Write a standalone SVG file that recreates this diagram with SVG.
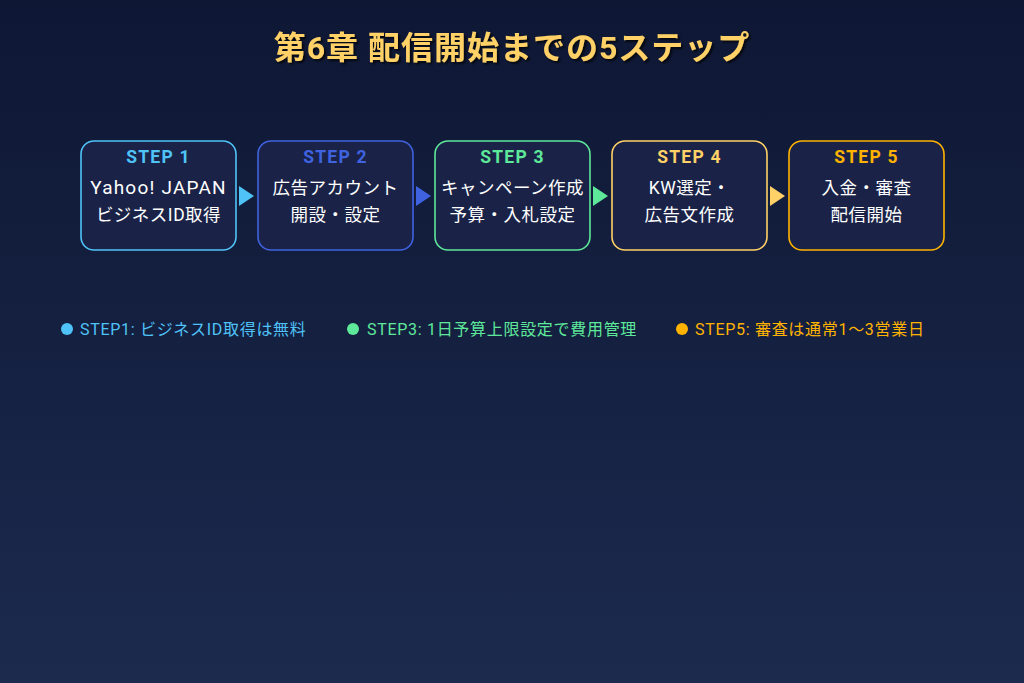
<svg xmlns="http://www.w3.org/2000/svg" width="1024" height="683" viewBox="0 0 1024 683">
<defs>
<linearGradient id="bg" x1="0" y1="0" x2="0" y2="1">
<stop offset="0" stop-color="#0e1734"/>
<stop offset="1" stop-color="#1c2a4e"/>
</linearGradient>
<filter id="sh" x="-10%" y="-30%" width="120%" height="160%">
<feDropShadow dx="2" dy="2" stdDeviation="1" flood-color="#000" flood-opacity="0.7"/>
</filter>
</defs>
<style>
text{font-family:"Roboto","Noto Sans CJK JP",sans-serif;text-anchor:middle}
.box{fill:#1a2347;stroke-width:1.6}
.step{font-weight:bold;font-size:17.5px;letter-spacing:1.2px}
.lbl{fill:#ffffff;font-size:17.5px;letter-spacing:0.5px}
.yj{font-size:19px;letter-spacing:1.2px}
.leg{font-size:16px;letter-spacing:0.7px;text-anchor:start}
</style>
<rect width="1024" height="683" fill="url(#bg)"/>
<text x="512" y="59" font-size="32" font-weight="bold" letter-spacing="1" fill="#ffd166" filter="url(#sh)">第6章 配信開始までの5ステップ</text>

<g id="connectors">
<polygon points="239,186 254,196 239,206" fill="#4fc3f7"/>
<polygon points="416,186 431,196 416,206" fill="#3f63e0"/>
<polygon points="593,186 608,196 593,206" fill="#5ee89a"/>
<polygon points="770,186 785,196 770,206" fill="#ffd166"/>
</g>

<g id="step1">
<rect class="box" x="81" y="141" width="155" height="109" rx="13" stroke="#4fc3f7"/>
<text class="step" x="158.5" y="163" fill="#4fc3f7">STEP 1</text>
<text class="lbl yj" x="158.5" y="194">Yahoo! JAPAN</text>
<text class="lbl" x="158.5" y="221">ビジネスID取得</text>
</g>
<g id="step2">
<rect class="box" x="258" y="141" width="155" height="109" rx="13" stroke="#3f63e0"/>
<text class="step" x="335.5" y="163" fill="#3f63e0">STEP 2</text>
<text class="lbl" x="335.5" y="194">広告アカウント</text>
<text class="lbl" x="335.5" y="221">開設・設定</text>
</g>
<g id="step3">
<rect class="box" x="435" y="141" width="155" height="109" rx="13" stroke="#5ee89a"/>
<text class="step" x="512.5" y="163" fill="#5ee89a">STEP 3</text>
<text class="lbl" x="512.5" y="194">キャンペーン作成</text>
<text class="lbl" x="512.5" y="221">予算・入札設定</text>
</g>
<g id="step4">
<rect class="box" x="612" y="141" width="155" height="109" rx="13" stroke="#ffd166"/>
<text class="step" x="689.5" y="163" fill="#ffd166">STEP 4</text>
<text class="lbl" x="689.5" y="194">KW選定・</text>
<text class="lbl" x="689.5" y="221">広告文作成</text>
</g>
<g id="step5">
<rect class="box" x="789" y="141" width="155" height="109" rx="13" stroke="#ffb300"/>
<text class="step" x="866.5" y="163" fill="#ffb300">STEP 5</text>
<text class="lbl" x="866.5" y="194">入金・審査</text>
<text class="lbl" x="866.5" y="221">配信開始</text>
</g>

<g id="legend">
<circle cx="67" cy="329" r="6" fill="#4fc3f7"/>
<text class="leg" x="80" y="335" fill="#4fc3f7">STEP1: ビジネスID取得は無料</text>
<circle cx="353" cy="329" r="6" fill="#5ee89a"/>
<text class="leg" x="367" y="335" fill="#5ee89a">STEP3: 1日予算上限設定で費用管理</text>
<circle cx="682" cy="329" r="6" fill="#ffb300"/>
<text class="leg" x="695" y="335" fill="#ffb300">STEP5: 審査は通常1〜3営業日</text>
</g>
</svg>
